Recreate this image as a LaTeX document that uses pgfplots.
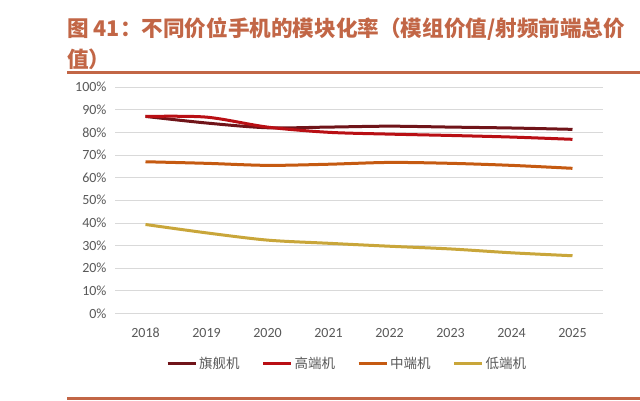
\documentclass[border=0pt]{standalone}
\usepackage{fontspec}
\setmainfont{Carlito}
\newfontfamily\cjk{Noto Sans CJK SC}
\usepackage{pgfplots}
\pgfplotsset{compat=1.18}
\definecolor{titlec}{RGB}{194,102,70}
\definecolor{cflag}{RGB}{112,20,25}
\definecolor{chigh}{RGB}{185,15,20}
\definecolor{cmid}{RGB}{197,90,17}
\definecolor{clow}{RGB}{201,166,58}
\definecolor{tickc}{RGB}{89,89,89}
\begin{document}
\begin{tikzpicture}
\useasboundingbox (0,0) rectangle (640pt,400pt);
\begin{scope}
\clip (0,0) rectangle (640pt,400pt);
\fill[white] (0,0) rectangle (640pt,400pt);
\node[anchor=base west, inner sep=0pt, text=titlec,
      font=\cjk\bfseries\fontsize{21.6}{32}\selectfont] at (67pt,363.5pt)
  {图 41：不同价位手机的模块化率（模组价值/射频前端总价};
\node[anchor=base west, inner sep=0pt, text=titlec,
      font=\cjk\bfseries\fontsize{21.6}{32}\selectfont] at (67pt,333pt)
  {值）};
\draw[titlec, line width=2.2pt] (67pt,327.5pt) -- (640pt,327.5pt);
\draw[titlec, line width=2.2pt] (67pt,1.5pt) -- (640pt,1.5pt);
\end{scope}
\begin{axis}[
  at={(115pt,86.5pt)}, anchor=south west,
  width=488pt, height=226.5pt, scale only axis,
  xmin=-0.5, xmax=7.5, ymin=0, ymax=100,
  xtick={0,...,7},
  xticklabels={2018,2019,2020,2021,2022,2023,2024,2025},
  ytick={0,10,...,100},
  yticklabel={\pgfmathprintnumber{\tick}\%},
  /pgf/number format/assume math mode=true,
  axis line style={draw=none},
  tick style={draw=none},
  ymajorgrids,
  grid style={draw=black!15, line width=0.8pt},
  ticklabel style={font=\fontsize{14}{14}\selectfont, text=tickc},
  yticklabel style={xshift=-5pt},
  xticklabel style={yshift=-11pt},
  clip=false,
  legend style={at={(0.1045,-0.222)}, anchor=west, draw=none, fill=none,
    inner sep=0pt, legend columns=4,
    font=\cjk\fontsize{13.5}{13.5}\selectfont, text=tickc,
    /tikz/every even column/.append style={column sep=20pt}},
  legend image code/.code={\draw[#1, line width=3pt] (0pt,0pt) -- (28pt,0pt);},
  legend cell align=left,
  every axis plot/.append style={line width=3pt, smooth, tension=0.5},
]
\addplot[cflag] coordinates {(0,87) (1,84.1) (2,82) (3,82.3) (4,82.7) (5,82.3) (6,81.9) (7,81.3)};
\addlegendentry{旗舰机}
\addplot[chigh] coordinates {(0,87) (1,86.7) (2,82.3) (3,80) (4,79.2) (5,78.6) (6,77.9) (7,76.9)};
\addlegendentry{高端机}
\addplot[cmid] coordinates {(0,67) (1,66.3) (2,65.4) (3,65.9) (4,66.7) (5,66.3) (6,65.4) (7,64.1)};
\addlegendentry{中端机}
\addplot[clow] coordinates {(0,39.3) (1,35.6) (2,32.4) (3,31) (4,29.7) (5,28.5) (6,26.8) (7,25.5)};
\addlegendentry{低端机}
\end{axis}
\end{tikzpicture}
\end{document}
